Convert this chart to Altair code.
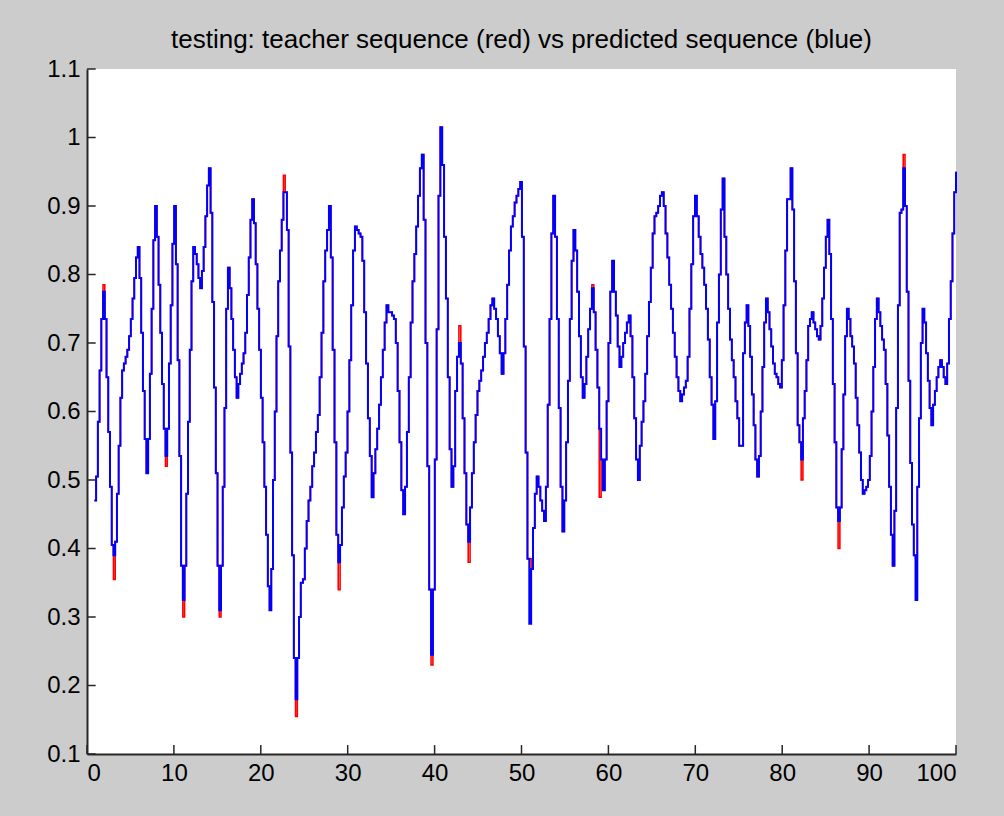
import altair as alt
import numpy as np
import pandas as pd

TITLE = "testing: teacher sequence (red) vs predicted sequence (blue)"
X_TICKS = [0, 10, 20, 30, 40, 50, 60, 70, 80, 90, 100]
Y_TICKS = [0.1, 0.2, 0.3, 0.4, 0.5, 0.6, 0.7, 0.8, 0.9, 1.0, 1.1]

# predicted sequence (blue) in four stretches of x
pred_seg1_range = (0.85, 24.6)
pred_seg1 = [
    0.47, 0.505, 0.585, 0.66, 0.735, 0.775, 0.735, 0.65, 0.57, 0.49,
    0.405, 0.39, 0.41, 0.48, 0.55, 0.62, 0.66, 0.67, 0.68, 0.69,
    0.71, 0.735, 0.765, 0.795, 0.825, 0.84, 0.795, 0.715, 0.63, 0.56,
    0.51, 0.56, 0.655, 0.75, 0.85, 0.90, 0.855, 0.785, 0.715, 0.64,
    0.575, 0.535, 0.575, 0.67, 0.755, 0.845, 0.90, 0.815, 0.675, 0.535,
    0.375, 0.325, 0.375, 0.48, 0.585, 0.69, 0.79, 0.84, 0.83, 0.815,
    0.795, 0.78, 0.805, 0.84, 0.885, 0.93, 0.955, 0.89, 0.76, 0.635,
    0.51, 0.375, 0.31, 0.375, 0.49, 0.605, 0.75, 0.81, 0.78, 0.735,
    0.69, 0.65, 0.62, 0.64, 0.655, 0.67, 0.685, 0.715, 0.77, 0.825,
    0.88, 0.91, 0.875, 0.815, 0.75, 0.69, 0.62, 0.555, 0.49, 0.42,
    0.345, 0.31, 0.37, 0.50, 0.60, 0.71, 0.79, 0.835, 0.88, 0.92,
    0.92, 0.865, 0.695, 0.54, 0.39, 0.24, 0.18, 0.24, 0.30, 0.35,
]
pred_seg2_range = (24.85, 49.85)
pred_seg2 = [
    0.355, 0.40, 0.44, 0.47, 0.49, 0.52, 0.54, 0.57, 0.595, 0.65,
    0.715, 0.79, 0.835, 0.865, 0.90, 0.825, 0.69, 0.555, 0.42, 0.38,
    0.405, 0.46, 0.505, 0.54, 0.60, 0.675, 0.755, 0.835, 0.87, 0.865,
    0.86, 0.855, 0.82, 0.745, 0.67, 0.59, 0.535, 0.475, 0.51, 0.545,
    0.575, 0.61, 0.65, 0.69, 0.73, 0.755, 0.745, 0.745, 0.74, 0.735,
    0.70, 0.63, 0.555, 0.485, 0.45, 0.49, 0.57, 0.65, 0.73, 0.79,
    0.83, 0.87, 0.915, 0.955, 0.975, 0.88, 0.70, 0.52, 0.34, 0.245,
    0.34, 0.53, 0.72, 0.915, 1.015, 0.96, 0.855, 0.765, 0.65, 0.545,
    0.49, 0.52, 0.63, 0.68, 0.70, 0.67, 0.59, 0.51, 0.435, 0.41,
    0.46, 0.51, 0.555, 0.595, 0.63, 0.645, 0.66, 0.68, 0.70, 0.715,
    0.735, 0.755, 0.765, 0.75, 0.735, 0.71, 0.685, 0.655, 0.685, 0.735,
    0.785, 0.835, 0.87, 0.885, 0.905, 0.915, 0.925, 0.935,
]
pred_seg3_range = (50.05, 75.05)
pred_seg3 = [
    0.855, 0.695, 0.54, 0.385, 0.29, 0.37, 0.43, 0.48, 0.505, 0.49,
    0.47, 0.455, 0.44, 0.49, 0.61, 0.735, 0.86, 0.915, 0.855, 0.735,
    0.605, 0.49, 0.425, 0.47, 0.555, 0.645, 0.735, 0.82, 0.865, 0.835,
    0.775, 0.71, 0.65, 0.62, 0.64, 0.68, 0.72, 0.75, 0.78, 0.745,
    0.69, 0.635, 0.575, 0.53, 0.485, 0.53, 0.615, 0.70, 0.775, 0.82,
    0.775, 0.74, 0.695, 0.665, 0.68, 0.70, 0.715, 0.73, 0.74, 0.71,
    0.65, 0.59, 0.53, 0.50, 0.55, 0.585, 0.615, 0.655, 0.71, 0.76,
    0.81, 0.86, 0.885, 0.89, 0.90, 0.915, 0.92, 0.90, 0.86, 0.825,
    0.785, 0.75, 0.715, 0.68, 0.65, 0.63, 0.615, 0.625, 0.635, 0.645,
    0.68, 0.75, 0.815, 0.885, 0.915, 0.885, 0.855, 0.83, 0.81, 0.785,
    0.75, 0.705, 0.65, 0.61, 0.56, 0.615, 0.73, 0.80, 0.895, 0.94,
    0.855, 0.80, 0.75, 0.705, 0.675, 0.65, 0.615, 0.59, 0.55,
]
pred_seg4_range = (75.5, 100.0)
pred_seg4 = [
    0.685, 0.73, 0.755, 0.725, 0.68, 0.625, 0.58, 0.53, 0.505, 0.535,
    0.60, 0.665, 0.73, 0.765, 0.745, 0.72, 0.695, 0.67, 0.655, 0.65,
    0.64, 0.635, 0.675, 0.755, 0.835, 0.91, 0.91, 0.955, 0.895, 0.79,
    0.685, 0.58, 0.555, 0.53, 0.59, 0.63, 0.675, 0.725, 0.735, 0.745,
    0.73, 0.72, 0.71, 0.705, 0.725, 0.765, 0.81, 0.855, 0.88, 0.83,
    0.735, 0.64, 0.555, 0.46, 0.44, 0.46, 0.545, 0.625, 0.71, 0.75,
    0.735, 0.71, 0.695, 0.67, 0.62, 0.58, 0.54, 0.50, 0.48, 0.485,
    0.49, 0.50, 0.535, 0.60, 0.665, 0.735, 0.765, 0.745, 0.725, 0.705,
    0.69, 0.64, 0.565, 0.49, 0.42, 0.375, 0.455, 0.605, 0.755, 0.89,
    0.895, 0.955, 0.90, 0.775, 0.645, 0.525, 0.435, 0.39, 0.325, 0.49,
    0.59, 0.70, 0.75, 0.73, 0.685, 0.645, 0.605, 0.58, 0.61, 0.63,
    0.65, 0.665, 0.675, 0.665, 0.65, 0.64, 0.67, 0.735, 0.79, 0.86,
    0.92, 0.95,
]

# teacher sequence (red): same as the prediction except where red shows
teacher_diffs = [
    (1.5, 0.785), (3.0, 0.355), (9.0, 0.52), (11.0, 0.30), (15.0, 0.30),
    (22.7, 0.945), (24.0, 0.155), (28.8, 0.34), (39.7, 0.23), (42.9, 0.725),
    (43.8, 0.38), (50.7, 0.385), (57.9, 0.785), (58.7, 0.475), (81.9, 0.50),
    (86.3, 0.40), (93.8, 0.975), (95.0, 0.385),
]

segments = [
    (pred_seg1_range, pred_seg1),
    (pred_seg2_range, pred_seg2),
    (pred_seg3_range, pred_seg3),
    (pred_seg4_range, pred_seg4),
]
xs, pv = [], []
for (x0, x1), vals in segments:
    xs.extend(np.linspace(x0, x1, len(vals)).tolist())
    pv.extend(vals)
xs_arr = np.array(xs)
tv = list(pv)
for xd, vd in teacher_diffs:
    window = np.where(np.abs(xs_arr - xd) <= 0.35)[0]
    if len(window) == 0:
        window = np.array([int(np.argmin(np.abs(xs_arr - xd)))])
    sub = [pv[i] for i in window]
    i = window[int(np.argmin(sub))] if vd < np.mean(sub) else window[int(np.argmax(sub))]
    tv[i] = vd

df = pd.DataFrame({
    "x": xs + xs,
    "v": pv + tv,
    "series": ["predicted"] * len(xs) + ["teacher"] * len(xs),
})

FONT = "Liberation Sans, Arial, Helvetica, sans-serif"
xscale = alt.Scale(domain=[0, 100], nice=False, zero=False)
yscale = alt.Scale(domain=[0.1, 1.1], nice=False, zero=False)

x_axis = alt.Axis(values=X_TICKS, ticks=False, grid=False, title=None,
                  labelFont=FONT, labelFontSize=24, labelColor="#000000",
                  labelPadding=7, domainColor="#262626", domainWidth=2)
y_axis = alt.Axis(values=Y_TICKS, ticks=False, grid=False, title=None,
                  labelFont=FONT, labelFontSize=24, labelColor="#000000",
                  labelPadding=7, domainColor="#262626", domainWidth=2,
                  labelExpr="datum.value == 1 ? '1' : format(datum.value, '.1f')")

X = lambda f: alt.X(f, scale=xscale, axis=x_axis)
Y = lambda f: alt.Y(f, scale=yscale, axis=y_axis)

base = alt.Chart(df)
red = base.transform_filter(alt.datum.series == "teacher").mark_line(
    interpolate="step-after", color="#ff0000", strokeWidth=1.6
).encode(x=X("x:Q"), y=Y("v:Q"))
blue = base.transform_filter(alt.datum.series == "predicted").mark_line(
    interpolate="step-after", color="#0000ff", strokeWidth=2
).encode(x=X("x:Q"), y=Y("v:Q"))

xt = pd.DataFrame({"x": X_TICKS, "y0": [0.1] * len(X_TICKS), "y1": [0.1 + 0.013] * len(X_TICKS)})
yt = pd.DataFrame({"y": Y_TICKS, "x0": [0] * len(Y_TICKS), "x1": [1.0] * len(Y_TICKS)})
xticks = alt.Chart(xt).mark_rule(color="#262626", strokeWidth=1.5).encode(
    x=X("x:Q"), y=Y("y0:Q"), y2="y1:Q",
)
yticks = alt.Chart(yt).mark_rule(color="#262626", strokeWidth=1.5).encode(
    y=Y("y:Q"), x=X("x0:Q"), x2="x1:Q",
)

chart = alt.layer(red, blue, xticks, yticks).properties(
    width=869,
    height=685,
    autosize=alt.AutoSizeParams(type="none"),
    padding={"left": 87, "top": 69, "right": 48, "bottom": 62},
    title=alt.TitleParams(TITLE, font=FONT, fontSize=26, fontWeight="normal",
                          color="#000000", anchor="middle", offset=4),
).configure(
    background="#cccccc",
).configure_view(
    fill="#ffffff", stroke=None,
)

chart.save("out.html", embed_options={"renderer": "svg", "actions": False})
